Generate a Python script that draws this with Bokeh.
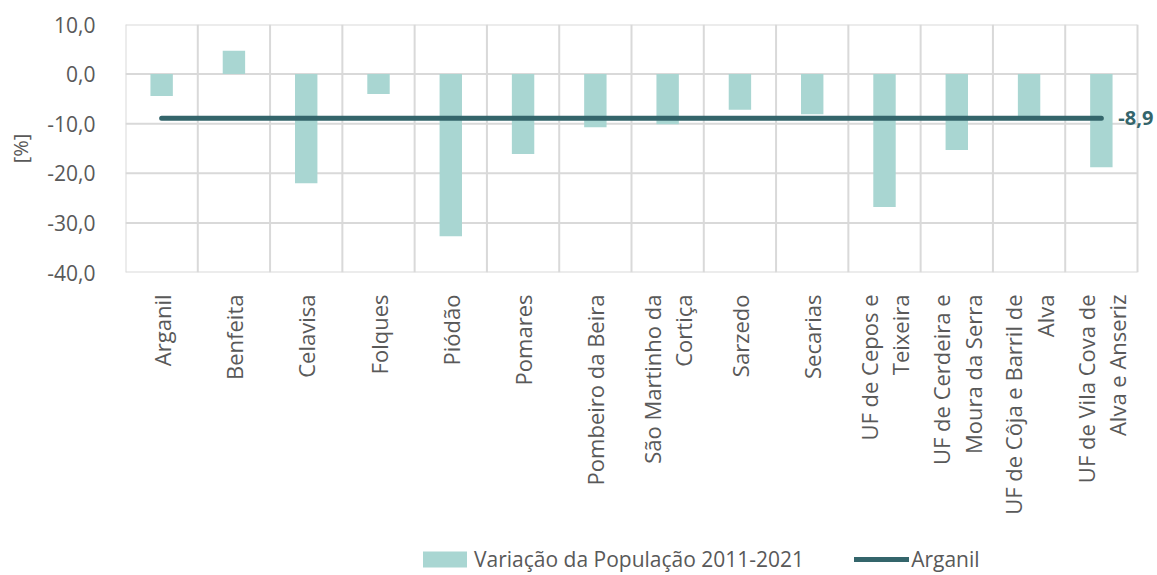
import math
from bokeh.plotting import figure
from bokeh.layouts import column
from bokeh.models import (Range1d, FixedTicker, CustomJSTickFormatter,
                          Legend, LegendItem, Label, ColumnDataSource)
from bokeh.embed import file_html
from bokeh.resources import INLINE

categories = ["Arganil", "Benfeita", "Celavisa", "Folques", "Piódão", "Pomares",
              "Pombeiro da Beira", "São Martinho da\nCortiça", "Sarzedo", "Secarias",
              "UF de Cepos e\nTeixeira", "UF de Cerdeira e\nMoura da Serra",
              "UF de Côja e Barril de\nAlva", "UF de Vila Cova de\nAlva e Anseriz"]
variacao = [-4.4, 4.7, -22.0, -4.0, -32.7, -16.1, -10.7, -10.1, -7.2, -8.1,
            -26.8, -15.3, -9.1, -18.8]
arganil_value = -8.9
y_ticks = [-40, -30, -20, -10, 0, 10]
series_names = ["Variação da População 2011-2021", "Arganil"]

BAR = "#A9D6D2"
LINE = "#34656B"
TXT = "#595959"
GRID = "#D9D9D9"
FONT = "Open Sans"

n = len(categories)
xc = [i + 0.5 for i in range(n)]
src = ColumnDataSource(dict(x=xc, val=variacao, arg=[arganil_value] * n))

p = figure(frame_width=1032, frame_height=248,
           x_range=Range1d(0, n * 1032 / 1012), y_range=Range1d(y_ticks[0], y_ticks[-1]),
           output_backend="svg", toolbar_location=None,
           min_border_left=125, min_border_right=0, min_border_top=24,
           min_border_bottom=0)

p.outline_line_color = None
p.background_fill_color = "white"
p.border_fill_color = "white"
p.xgrid.visible = False
p.ygrid.visible = False

# grid lines (horizontal from tick values, vertical at category boundaries)
p.segment(x0=[0] * len(y_ticks), x1=[n] * len(y_ticks), y0=y_ticks, y1=y_ticks,
          line_color=GRID, line_width=2)
p.segment(x0=list(range(n + 1)), x1=list(range(n + 1)),
          y0=[y_ticks[0]] * (n + 1), y1=[y_ticks[-1]] * (n + 1),
          line_color=GRID, line_width=2)

p.vbar(x="x", top="val", bottom=0, width=0.31, source=src,
       fill_color=BAR, line_color=None)
p.line(x="x", y="arg", source=src, line_color=LINE, line_width=5, line_cap="round")

lbl = Label(x=xc[-1], y=arganil_value, x_offset=17,
            text=f"{arganil_value:.1f}".replace(".", ","),
            text_font=FONT, text_font_style="bold", text_font_size="20px",
            text_color=LINE, text_align="left", text_baseline="middle")
p.add_layout(lbl)

# y axis
p.yaxis.ticker = FixedTicker(ticks=y_ticks)
p.yaxis.formatter = CustomJSTickFormatter(code="return tick.toFixed(1).replace('.', ',');")
p.yaxis.axis_line_color = None
p.yaxis.major_tick_line_color = None
p.yaxis.minor_tick_line_color = None
p.yaxis.major_label_text_font = FONT
p.yaxis.major_label_text_font_size = "21px"
p.yaxis.major_label_text_color = TXT
p.yaxis.major_label_standoff = 24
p.yaxis.axis_label = "[%]"
p.yaxis.axis_label_text_font = FONT
p.yaxis.axis_label_text_font_size = "20px"
p.yaxis.axis_label_text_font_style = "normal"
p.yaxis.axis_label_text_color = TXT
p.yaxis.axis_label_standoff = 10

# x axis
p.xaxis.ticker = FixedTicker(ticks=xc)
p.xaxis.major_label_overrides = {x: c for x, c in zip(xc, categories)}
p.xaxis.axis_line_color = None
p.xaxis.major_tick_line_color = None
p.xaxis.minor_tick_line_color = None
p.xaxis.major_label_orientation = math.pi / 2
p.xaxis.major_label_text_font = FONT
p.xaxis.major_label_text_font_size = "22px"
p.xaxis.major_label_text_line_height = 1.05
p.xaxis.major_label_text_color = TXT
p.xaxis.major_label_standoff = 16

# legend in its own strip below the chart (swatch renderers lie outside its ranges)
pl = figure(width=1157, height=56, x_range=Range1d(0, 1), y_range=Range1d(0, 1),
            output_backend="svg", toolbar_location=None,
            min_border=0)
pl.axis.visible = False
pl.grid.visible = False
pl.outline_line_color = None
pl.background_fill_color = "white"
pl.border_fill_color = "white"
lb = pl.vbar(x=[-5], top=[-5], bottom=-4, width=0.1, fill_color=BAR, line_color=None)
ll = pl.line(x=[-6, -5], y=[-5, -5], line_color=LINE, line_width=5, line_cap="round")
legend = Legend(items=[LegendItem(label=series_names[0], renderers=[lb]),
                       LegendItem(label=series_names[1], renderers=[ll])],
                orientation="horizontal", location=(292, 0),
                glyph_width=55, glyph_height=20, label_standoff=2, spacing=50,
                label_text_font=FONT, label_text_font_size="21px",
                label_text_color=TXT, border_line_color=None,
                background_fill_alpha=0, margin=0, padding=4)
pl.add_layout(legend)

open("out.html", "w").write(file_html(column(p, pl, spacing=0), INLINE))
